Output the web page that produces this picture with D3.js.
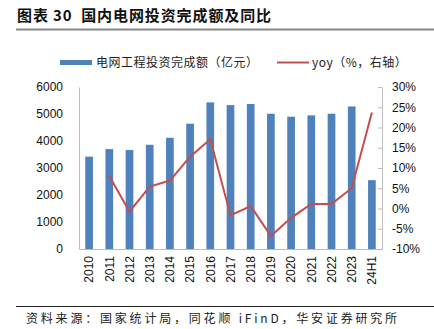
<!DOCTYPE html>
<html>
  <head>
    <meta charset="utf-8">
    <title>国内电网投资完成额及同比</title>
    <style>
      body {margin:0; background:#fff}
      text {font-family: "Liberation Sans", Arial, sans-serif}
      .cn {font-family: "Noto Sans CJK SC", sans-serif; white-space: pre}
    </style>
  </head>
  <body>
    <script src="https://cdn.jsdelivr.net/npm/d3@7/dist/d3.min.js"></script>
    <script>

    const years = ['2010','2011','2012','2013','2014','2015','2016','2017','2018','2019','2020','2021','2022','2023','24H1']
    const invest = [3420, 3700, 3665, 3860, 4120, 4640, 5430, 5330, 5370, 5010, 4900, 4950, 5010, 5280, 2550]
    const yoy = [null, 8.0, -0.8, 5.4, 6.9, 12.8, 17.1, -1.7, 0.6, -6.8, -2.3, 1.1, 1.1, 5.0, 23.7]
    const leftTicks = [0, 1000, 2000, 3000, 4000, 5000, 6000]
    const rightTicks = [-10, -5, 0, 5, 10, 15, 20, 25, 30]

    const W = 434, H = 329
    const m = {l: 79, r: 382, t: 87, b: 249}

    const svg = d3.select('body').append('svg').attr('width', W).attr('height', H)

    // title + rule
    svg.append('text').attr('class', 'cn')
      .attr('x', 17).attr('y', 21)
      .attr('font-size', 15).attr('font-weight', 'bold').attr('fill', '#111')
      .attr('letter-spacing', 0.9)
      .text('图表 30  国内电网投资完成额及同比')
    svg.append('line').attr('x1', 16).attr('x2', 434).attr('y1', 29.5).attr('y2', 29.5)
      .attr('stroke', '#888').attr('stroke-width', 2)

    const x = d3.scaleBand().domain(years).range([m.l, m.r]).paddingInner(0.62).paddingOuter(0.31)
    const yL = d3.scaleLinear().domain([0, 6000]).range([m.b, m.t])
    const yR = d3.scaleLinear().domain([-10, 30]).range([m.b, m.t])

    // bars
    svg.append('g').selectAll('rect').data(invest).join('rect')
      .attr('x', (d, i) => x(years[i]))
      .attr('width', x.bandwidth())
      .attr('y', d => yL(d))
      .attr('height', d => yL(0) - yL(d))
      .attr('fill', '#4F81BD')

    // axes
    const axL = svg.append('g').attr('transform', `translate(${m.l},0)`)
      .call(d3.axisLeft(yL).tickValues(leftTicks).tickSize(0).tickPadding(16).tickFormat(d3.format('d')))
    const axR = svg.append('g').attr('transform', `translate(${m.r},0)`)
      .call(d3.axisRight(yR).tickValues(rightTicks).tickSizeInner(-4).tickSizeOuter(0)
        .tickFormat(d => d + '%').tickPadding(10))
    const axB = svg.append('g').attr('transform', `translate(0,${m.b})`)
      .call(d3.axisBottom(x).tickSize(0).tickPadding(0))
    ;[axL, axR, axB].forEach(a => {
      a.select('.domain').attr('stroke', '#bbb')
      a.selectAll('line').attr('stroke', '#bbb')
      a.selectAll('text').attr('font-size', 12).attr('fill', '#111')
        .attr('font-family', '"Liberation Sans", Arial, sans-serif')
    })
    axB.selectAll('text')
      .attr('transform', 'rotate(-90)')
      .attr('text-anchor', 'end')
      .attr('x', -7).attr('y', 0).attr('dy', '0.35em')

    // yoy line
    const line = d3.line()
      .defined(d => d != null)
      .x((d, i) => x(years[i]) + x.bandwidth() / 2)
      .y(d => yR(d))
    svg.append('path').datum(yoy)
      .attr('d', line)
      .attr('fill', 'none').attr('stroke', '#C0504D').attr('stroke-width', 2)

    // legend
    const lg = svg.append('g').attr('font-size', 12).attr('letter-spacing', 0.5)
    lg.append('rect').attr('x', 60).attr('y', 60).attr('width', 32).attr('height', 5).attr('fill', '#4F81BD')
    lg.append('text').attr('class', 'cn').attr('x', 96).attr('y', 67).attr('fill', '#222')
      .text('电网工程投资完成额（亿元）')
    lg.append('line').attr('x1', 277).attr('x2', 309).attr('y1', 62.5).attr('y2', 62.5)
      .attr('stroke', '#C0504D').attr('stroke-width', 2)
    lg.append('text').attr('class', 'cn').attr('x', 312).attr('y', 67).attr('fill', '#222')
      .text('yoy（%，右轴）')

    // source
    svg.append('line').attr('x1', 16).attr('x2', 434).attr('y1', 306.5).attr('y2', 306.5)
      .attr('stroke', '#222').attr('stroke-width', 1)
    svg.append('text').attr('class', 'cn')
      .attr('x', 26).attr('y', 323).attr('font-size', 12).attr('letter-spacing', 2.8).attr('fill', '#222')
      .text('资料来源：国家统计局，同花顺 iFinD，华安证券研究所')

    </script>
  </body>
</html>
